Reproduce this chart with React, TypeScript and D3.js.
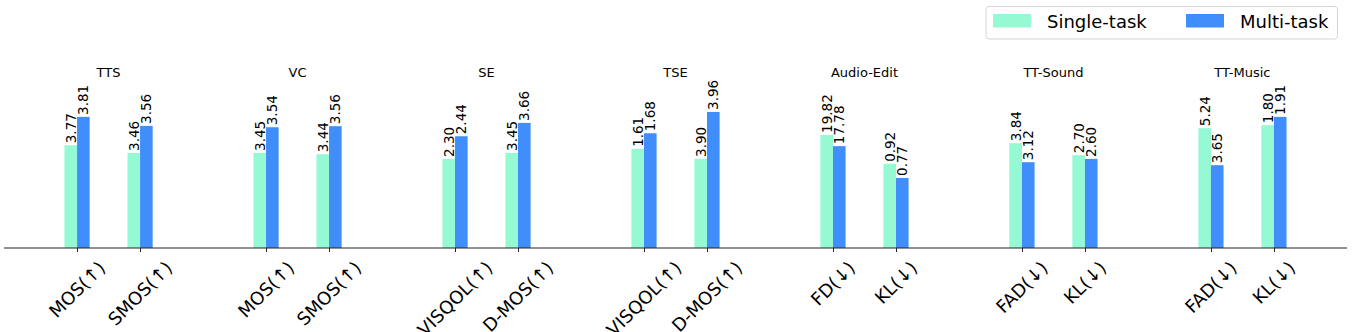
import React, { useEffect, useRef } from "react";
import * as d3 from "d3";

const groups = ["TTS", "VC", "SE", "TSE", "Audio-Edit", "TT-Sound", "TT-Music"];
const metrics = [
  "MOS(↑)", "SMOS(↑)", "MOS(↑)", "SMOS(↑)", "VISQOL(↑)", "D-MOS(↑)", "VISQOL(↑)",
  "D-MOS(↑)", "FD(↓)", "KL(↓)", "FAD(↓)", "KL(↓)", "FAD(↓)", "KL(↓)",
];
const singleLabels = ["3.77", "3.46", "3.45", "3.44", "2.30", "3.45", "1.61", "3.90", "19.82", "0.92", "3.84", "2.70", "5.24", "1.80"];
const multiLabels = ["3.81", "3.56", "3.54", "3.56", "2.44", "3.66", "1.68", "3.96", "17.78", "0.77", "3.12", "2.60", "3.65", "1.91"];
// relative bar heights (normalized score, 0-100)
const singleHeights = [68.5, 63.4, 63.4, 62.5, 59.4, 63.4, 66.1, 59.4, 75.4, 56.1, 69.9, 61.9, 79.9, 81.9];
const multiHeights = [87.4, 81.4, 80.5, 81.2, 74.5, 83.4, 76.5, 90.7, 67.9, 46.7, 57.2, 59.4, 55.2, 87.4];
const seriesNames = ["Single-task", "Multi-task"];
const colors = ["#95f9d4", "#3f8efc"];

const W = 1366;
const H = 332;
const FONT = "DejaVu Sans, sans-serif";

export default function App() {
  const ref = useRef<SVGSVGElement>(null);

  useEffect(() => {
    const svg = d3.select(ref.current);
    svg.selectAll("*").remove();

    const baseline = 248;
    const x = d3.scaleLinear().domain([-1.16, 20.16]).range([4, 1347]);
    const y = d3.scaleLinear().domain([0, 100]).range([baseline, baseline - 150]);
    const pos = metrics.map((_, i) => Math.floor(i / 2) * 3 + (i % 2));
    const bw = 0.2;

    const series = [singleHeights, multiHeights];
    const labels = [singleLabels, multiLabels];

    series.forEach((vals, s) => {
      svg.append("g")
        .selectAll("rect")
        .data(vals)
        .join("rect")
        .attr("x", (_, i) => x(pos[i] + (s === 0 ? -bw : 0)))
        .attr("width", x(bw) - x(0))
        .attr("y", (d) => y(d))
        .attr("height", (d) => y(0) - y(d))
        .attr("fill", colors[s]);
    });

    series.forEach((vals, s) => {
      svg.append("g")
        .selectAll("text")
        .data(vals)
        .join("text")
        .attr("transform", (d, i) => {
          const cx = x(pos[i] + (s === 0 ? -bw / 2 : bw / 2));
          return `translate(${cx},${y(d) - 2}) rotate(-90)`;
        })
        .attr("dy", "0.36em")
        .attr("font-family", FONT)
        .attr("font-size", 13.5)
        .attr("fill", "#000")
        .text((_, i) => labels[s][i]);
    });

    // x axis
    svg.append("line")
      .attr("x1", x(-1.16)).attr("x2", x(20.16))
      .attr("y1", baseline).attr("y2", baseline)
      .attr("stroke", "#222").attr("stroke-width", 1);
    svg.append("g")
      .selectAll("line")
      .data(pos)
      .join("line")
      .attr("x1", (d) => Math.round(x(d)) + 0.5)
      .attr("x2", (d) => Math.round(x(d)) + 0.5)
      .attr("y1", baseline)
      .attr("y2", baseline + 4)
      .attr("stroke", "#222")
      .attr("stroke-width", 1);

    const tl = svg.append("g")
      .selectAll("text")
      .data(metrics)
      .join("text")
      .attr("font-family", FONT)
      .attr("font-size", 18)
      .attr("text-anchor", "middle")
      .attr("dy", "0.35em")
      .attr("fill", "#000")
      .text((d) => d);
    tl.each(function (d, i) {
      const node = this as SVGTextElement;
      const L = node.getComputedTextLength();
      const capH = 13;
      const cy = 260 + (L + capH) / (2 * Math.SQRT2);
      d3.select(node).attr("transform", `translate(${x(pos[i])},${cy}) rotate(-45)`);
    });

    // group titles
    svg.append("g")
      .selectAll("text")
      .data(groups)
      .join("text")
      .attr("x", (_, g) => x(g * 3 + 0.5))
      .attr("y", 77)
      .attr("text-anchor", "middle")
      .attr("font-family", FONT)
      .attr("font-size", 13)
      .attr("fill", "#000")
      .text((d) => d);

    // legend
    const lg = svg.append("g");
    lg.append("rect")
      .attr("x", 986).attr("y", 6.5).attr("width", 351.5).attr("height", 32.5)
      .attr("rx", 3).attr("fill", "#fff").attr("stroke", "#d6d6d6").attr("stroke-width", 1);
    const legendX = [993, 1186];
    seriesNames.forEach((name, s) => {
      lg.append("rect")
        .attr("x", legendX[s]).attr("y", 14).attr("width", 38).attr("height", 13.5)
        .attr("fill", colors[s]);
      lg.append("text")
        .attr("x", legendX[s] + 54)
        .attr("y", 28)
        .attr("font-family", FONT)
        .attr("font-size", 18)
        .attr("fill", "#000")
        .text(name);
    });
  }, []);

  return (
    <svg
      ref={ref}
      width={W}
      height={H}
      style={{ position: "absolute", left: 0, top: 0, background: "#fff" }}
    />
  );
}
